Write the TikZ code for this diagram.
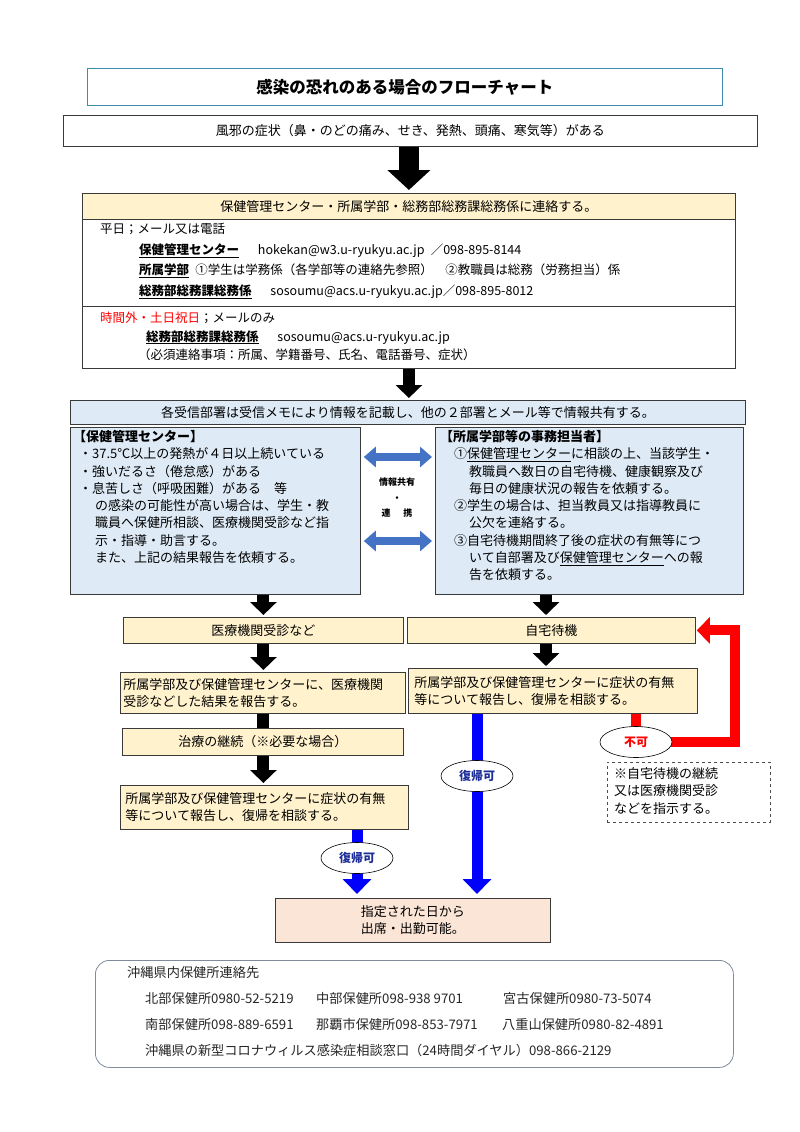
\documentclass[tikz,border=0pt]{standalone}
\usepackage{fontspec}
\setmainfont{Noto Sans CJK JP}
\usetikzlibrary{arrows.meta,calc,positioning,shapes.geometric,backgrounds}

\definecolor{memoyellow}{HTML}{FFF2CC}
\definecolor{infoblue}{HTML}{DEEBF7}
\definecolor{finalpeach}{HTML}{FBE5D6}
\definecolor{linkblue}{HTML}{4472C4}
\definecolor{titleedge}{HTML}{3C8DAA}
\definecolor{frameedge}{HTML}{3A3A3A}
\definecolor{noteedge}{HTML}{7F8C9C}
\definecolor{okblue}{HTML}{1F2F9A}

\begin{document}
\begin{tikzpicture}[
  x=1pt, y=-1pt,
  every node/.style={inner sep=0pt},
  frame/.style={
    draw=frameedge,
    line width=0.8pt,
    anchor=north west,
    align=center,
    font=\fontsize{13}{17}\selectfont
  },
  memo/.style={frame, fill=memoyellow},
  info/.style={frame, fill=infoblue},
  lines/.style={anchor=north west, align=left, font=\fontsize{13}{17.3}\selectfont},
  contact/.style={anchor=north west, align=left, font=\fontsize{12.5}{20.6}\selectfont},
  bigarrow/.style={draw=black, line width=20pt, -{Triangle[width=42pt,length=20pt]}, shorten >=3pt},
  down/.style={draw=black, line width=12pt, -{Triangle[width=26pt,length=13pt]}, shorten >=2pt},
  bar/.style={draw=black, line width=12pt},
  share/.style={draw=linkblue, line width=8pt, {Triangle[width=20pt,length=12pt]}-{Triangle[width=20pt,length=12pt]}},
  back/.style={draw=blue, line width=11pt, -{Triangle[width=28pt,length=15pt]}, shorten >=4pt},
  retry/.style={draw=red, line width=10pt, line join=miter, -{Triangle[width=26pt,length=13pt]}, shorten >=1pt},
  oval/.style={ellipse, draw=black, line width=0.6pt, fill=white, minimum width=72pt, minimum height=31pt,
    font=\fontsize{12}{14}\selectfont\bfseries}
]
\useasboundingbox (0,0) rectangle (800,1132);

% header
\node[frame, draw=titleedge, minimum width=635pt, minimum height=37pt, font=\fontsize{16.5}{20}\selectfont\bfseries]
  (title) at (87,68) {感染の恐れのある場合のフローチャート};
\node[frame, minimum width=694pt, minimum height=31pt] (symptom) at (63,115)
  {風邪の症状（鼻・のどの痛み、せき、発熱、頭痛、寒気等）がある};

% contact
\node[memo, minimum width=653pt, minimum height=26pt] (contacthead) at (82,193)
  {保健管理センター・所属学部・総務部総務課総務係に連絡する。};
\node[frame, minimum width=653pt, minimum height=87pt] (weekday) at (82,219) {};
\node[frame, minimum width=653pt, minimum height=62pt] (offhours) at (82,306) {};
\node[contact] (weekdaytext) at (100,223) {平日；メール又は電話\\
  \hspace{39pt}\underline{\textbf{保健管理センター}}\hspace{1.5em}hokekan@w3.u-ryukyu.ac.jp\hspace{0.5em}／098-895-8144\\
  \hspace{39pt}\underline{\textbf{所属学部}}\hspace{0.5em}①学生は学務係（各学部等の連絡先参照）\hspace{1em}②教職員は総務（労務担当）係\\
  \hspace{39pt}\underline{\textbf{総務部総務課総務係}}\hspace{1.5em}sosoumu@acs.u-ryukyu.ac.jp／098-895-8012};
\node[contact, font=\fontsize{12.5}{18.3}\selectfont] (offtext) at (100,312) {\textcolor{red}{時間外・土日祝日}；メールのみ\\
  \hspace{46pt}\underline{\textbf{総務部総務課総務係}}\hspace{1.5em}sosoumu@acs.u-ryukyu.ac.jp\\
  \hspace{38pt}（必須連絡事項：所属、学籍番号、氏名、電話番号、症状）};

\draw[bigarrow] (symptom.south -| contacthead.north) -- (contacthead.north);

% sharing
\node[info, minimum width=675pt, minimum height=24pt] (sharebar) at (70,400)
  {各受信部署は受信メモにより情報を記載し、他の２部署とメール等で情報共有する。};
\draw[down] (offhours.south) -- (offhours.south |- sharebar.north);

\node[info, minimum width=290pt, minimum height=167pt] (lbox) at (70,427) {};
\node[info, minimum width=308pt, minimum height=167pt] (rbox) at (435,427) {};
\node[lines] (ltext) at (73,430) {\textbf{【保健管理センター】}\\
  \hspace{6pt}・37.5℃以上の発熱が４日以上続いている\\
  \hspace{6pt}・強いだるさ（倦怠感）がある\\
  \hspace{6pt}・息苦しさ（呼吸困難）がある　等\\
  \hspace{22pt}の感染の可能性が高い場合は、学生・教\\
  \hspace{22pt}職員へ保健所相談、医療機関受診など指\\
  \hspace{22pt}示・指導・助言する。\\
  \hspace{22pt}また、上記の結果報告を依頼する。};
\node[lines] (rtext) at (440,430) {\textbf{【所属学部等の事務担当者】}\\
  \hspace{14pt}①\underline{保健管理センター}に相談の上、当該学生・\\
  \hspace{29pt}教職員へ数日の自宅待機、健康観察及び\\
  \hspace{29pt}毎日の健康状況の報告を依頼する。\\
  \hspace{14pt}②学生の場合は、担当教員又は指導教員に\\
  \hspace{29pt}公欠を連絡する。\\
  \hspace{14pt}③自宅待機期間終了後の症状の有無等につ\\
  \hspace{29pt}いて自部署及び\underline{保健管理センター}への報\\
  \hspace{29pt}告を依頼する。};

\draw[share] ($(lbox.north east)+(3,30)$) -- ($(rbox.north west)+(-3,30)$);
\draw[share] ($(lbox.north east)+(3,114)$) -- ($(rbox.north west)+(-3,114)$);
\node[align=center, font=\fontsize{9}{15.5}\selectfont\bfseries] (sharetext) at (397,498)
  {情報共有\\・\\連\hspace{1.4em}携};

% left column
\node[memo, minimum width=280pt, minimum height=26pt] (medical) at (123,617) {医療機関受診など};
\node[memo, minimum width=285pt, minimum height=41pt, align=left, text width=279pt] (mreport) at (120,672)
  {所属学部及び保健管理センターに、医療機関\\受診などした結果を報告する。};
\node[memo, minimum width=281pt, minimum height=27pt] (treat) at (122,728) {治療の継続（※必要な場合）};
\node[memo, minimum width=288pt, minimum height=44pt, align=left, text width=278pt] (lreturn) at (120,785)
  {所属学部及び保健管理センターに症状の有無\\等について報告し、復帰を相談する。};

\draw[down] (lbox.south -| medical.north) -- (medical.north);
\draw[down] (medical.south) -- (mreport.north -| medical.south);
\draw[bar] (mreport.south -| medical.south) -- (treat.north -| medical.south);
\draw[down] (treat.south -| medical.south) -- (lreturn.north -| medical.south);

% right column
\node[memo, minimum width=288pt, minimum height=26pt] (home) at (407,617) {自宅待機};
\node[memo, minimum width=289pt, minimum height=45pt, align=left, text width=277pt] (rreport) at (408,668)
  {所属学部及び保健管理センターに症状の有無\\等について報告し、復帰を相談する。};

\draw[down] (rbox.south -| 546,0) -- (home.north -| 546,0);
\draw[down] (home.south -| 546,0) -- (rreport.north -| 546,0);

% outcome
\node[frame, fill=finalpeach, minimum width=275pt, minimum height=44pt, align=left] (final) at (275,898)
  {指定された日から\\出席・出勤可能。};

\node[oval, text=okblue] (okright) at (477,776) {復帰可};
\node[oval, text=okblue] (okleft) at (357,858) {復帰可};
\node[oval, text=red] (ng) at (636,742) {不可};

\begin{scope}[on background layer]
\draw[back] (rreport.south -| okright) -- (okright |- final.north);
\draw[back] (lreturn.south -| okleft) -- (okleft |- final.north);
\draw[retry] (rreport.south -| ng) -- (ng.center) -- ++(99,0) |- (home.east);
\end{scope}

\node[draw=black!70, dashed, line width=0.7pt, anchor=north west, minimum width=163pt, minimum height=60pt] (note) at (607,762) {};
\node[lines, font=\fontsize{13}{17.5}\selectfont] (notetext) at (614,767)
  {※自宅待機の継続\\又は医療機関受診\\などを指示する。};

% contacts
\node[draw=noteedge, line width=0.8pt, rounded corners=14pt, anchor=north west, minimum width=638pt, minimum height=107pt] (offices) at (95,960) {};
\node[anchor=north west, align=left, font=\fontsize{13.2}{26}\selectfont, text=black!85] (officetext) at (127,966)
  {沖縄県内保健所連絡先\\
  \hspace{18pt}\makebox[171pt][l]{北部保健所0980-52-5219}\makebox[187pt][l]{中部保健所098-938 9701}宮古保健所0980-73-5074\\
  \hspace{18pt}\makebox[171pt][l]{南部保健所098-889-6591}\makebox[186pt][l]{那覇市保健所098-853-7971}八重山保健所0980-82-4891\\
  \hspace{18pt}沖縄県の新型コロナウィルス感染症相談窓口（24時間ダイヤル）098-866-2129};
\end{tikzpicture}
\end{document}
